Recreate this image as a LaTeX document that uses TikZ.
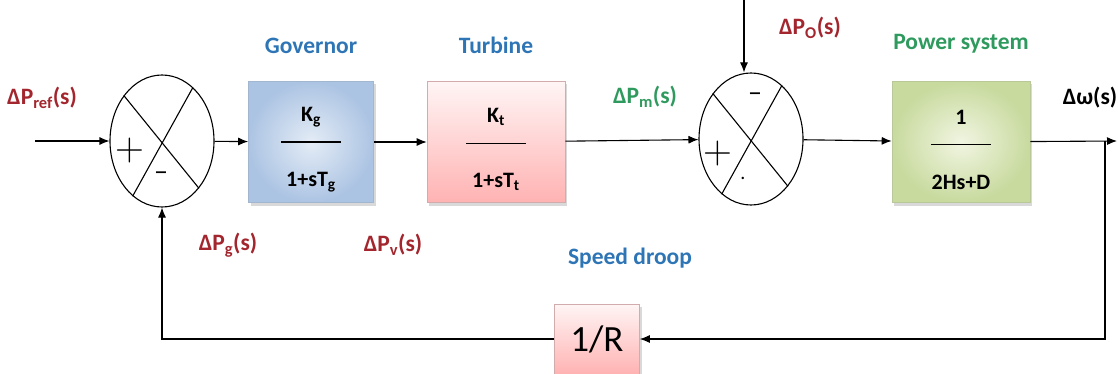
\documentclass[tikz,border=0pt]{standalone}
\usepackage{fontspec}
\setmainfont{Carlito}
\newfontfamily\signfont{Latin Modern Roman}
\usetikzlibrary{arrows.meta,positioning,shapes.geometric,shadows}
\definecolor{LRed}{HTML}{A3262E}
\definecolor{LBlue}{HTML}{2E75B6}
\definecolor{LGreen}{HTML}{2F9A5E}
\definecolor{GovIn}{RGB}{228,236,246}
\definecolor{GovOut}{RGB}{172,196,227}
\definecolor{PwsIn}{RGB}{241,245,226}
\definecolor{PwsOut}{RGB}{200,218,158}
\newcommand{\blkfrac}[2]{\rule{0pt}{30pt}#1\\[-3pt]\rule{60pt}{1.2pt}\\[20pt]#2}

\begin{document}
\begin{tikzpicture}[x=1pt,y=-1pt,
  sumj/.style={draw,ellipse,line width=1.1pt,minimum width=104pt,
    minimum height=132pt,inner sep=0pt},
  blk/.style={draw,line width=0.6pt,minimum height=121pt,align=center,
    font=\fontsize{22}{24}\selectfont\bfseries,
    drop shadow={shadow xshift=2pt,shadow yshift=-3pt,opacity=0.3}},
  gov/.style={inner color=GovIn,outer color=GovOut,draw=GovOut!80!gray},
  tur/.style={top color=red!4,bottom color=red!30,draw=red!30!gray!50},
  pws/.style={inner color=PwsIn,outer color=PwsOut,draw=PwsOut!80!gray},
  lbl/.style={font=\fontsize{23.5}{26}\selectfont\bfseries},
  sgn/.style={inner sep=0pt,font=\signfont\fontsize{40}{40}\selectfont},
  a/.style={-{Latex[length=10pt,width=8pt]},line width=1.1pt},
  l/.style={line width=1.1pt}
]
\useasboundingbox (0,0) rectangle (1118,374);
% summing points and blocks
\node[sumj] (s1) at (162,141) {};
\node[sumj] (s2) at (751,139) {};
\node[blk,gov,minimum width=125pt] (gov) at (311,142)
  {\blkfrac{K\textsubscript{g}}{1+sT\textsubscript{g}}};
\node[blk,tur,minimum width=138pt] (tur) at (496,142)
  {\blkfrac{K\textsubscript{t}}{1+sT\textsubscript{t}}};
\node[blk,pws,minimum width=138pt] (pws) at (961,142)
  {\blkfrac{1}{2Hs+D}};
\node[blk,tur,minimum width=85pt,minimum height=70pt,
  font=\fontsize{37}{40}\selectfont] (droop) at (597,339) {1/R};
% signs
\foreach \s in {s1,s2}
  {\draw[l] (\s.130) -- (\s.-52);
   \draw[l] (\s.60) -- (\s.-118);}
\node[sgn] (p1) at (130,151) {+};
\node[sgn,font=\fontsize{28}{28}\selectfont] (m1) at (161,176) {–};
\node[sgn,font=\fontsize{28}{28}\selectfont] (m2) at (755,97) {–};
\node[sgn] (p2) at (718,154) {+};
\node[sgn,font=\fontsize{20}{20}\selectfont] (d2) at (743,178) {.};
% labels
\node[lbl,LBlue,above=24pt of gov] (govlbl) {Governor};
\node[lbl,LBlue,above=24pt of tur] (turlbl) {Turbine};
\node[lbl,LGreen,above=24pt of pws] (pwslbl) {Power system};
\node[lbl,LBlue] (sdlbl) at (630,258) {Speed droop};
\node[lbl,LRed] (pref) at (42,98) {ΔP\textsubscript{ref}(s)};
\node[lbl,LRed] (pg) at (228,245) {ΔP\textsubscript{g}(s)};
\node[lbl,LRed] (pv) at (393,245) {ΔP\textsubscript{v}(s)};
\node[lbl,LGreen] (pm) at (645,97) {ΔP\textsubscript{m}(s)};
\node[lbl,LRed] (po) at (810,28) {ΔP\textsubscript{O}(s)};
\node[lbl] (dw) at (1090,98) {Δω(s)};
% connectors
\coordinate (in) at (35,141);
\coordinate (dist) at (744,0);
\coordinate (out) at (1117,141);
\coordinate (tap) at (1105,141);
\foreach \x/\y in {in/s1,s1/gov,gov/tur,tur/s2,s2/pws,pws/out}
  {\draw[a] (\x) -- (\y);}
\draw[a] (dist) -- (dist |- s2.north);
\draw[a] (tap) |- (droop.east);
\draw[a] (droop.west) -| (s1.south);
\end{tikzpicture}
\end{document}
